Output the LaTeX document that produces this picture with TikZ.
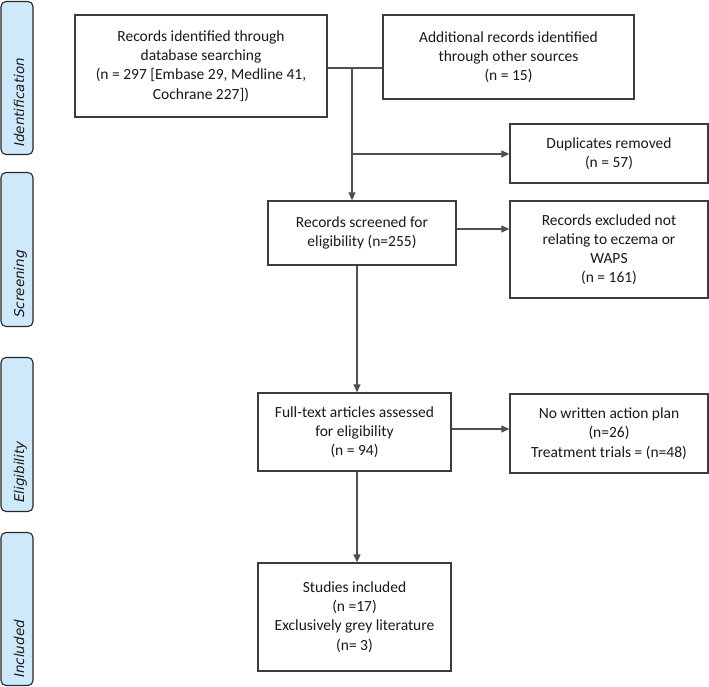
\documentclass[tikz,border=0pt]{standalone}
\usepackage{fontspec}
\setmainfont{Carlito}
\newfontfamily\lblfont{DejaVu Sans}
\usetikzlibrary{arrows.meta,calc}
\definecolor{lblue}{RGB}{206,234,250}
\definecolor{boxc}{RGB}{60,60,60}
\definecolor{linec}{RGB}{80,80,80}
\definecolor{txt}{RGB}{25,25,25}
\begin{document}
\begin{tikzpicture}[x=1pt,y=-1pt,
 box/.style={draw=boxc, line width=1.3pt, fill=white, align=center, inner sep=0pt, text=txt, font=\fontsize{15.5}{19.2}\selectfont},
 lab/.style={draw=black!85, line width=1.1pt, fill=lblue, rounded corners=5pt, inner sep=0pt},
 labtext/.style={rotate=90, anchor=base west, inner sep=0pt, text=txt, font=\lblfont\itshape\fontsize{13.5}{16}\selectfont},
 arr/.style={draw=linec, line width=1.2pt, -{Triangle[length=8pt,width=7pt]}},
 ln/.style={draw=linec, line width=1.2pt}]
\useasboundingbox (0,0) rectangle (709,687);
% stage labels
\node[lab, minimum width=32pt, minimum height=153pt] (l1) at (17,78) {};
\node[lab, minimum width=32pt, minimum height=154pt] (l2) at (17,249.5) {};
\node[lab, minimum width=32pt, minimum height=154pt] (l3) at (17,434.5) {};
\node[lab, minimum width=32pt, minimum height=153pt] (l4) at (17,609) {};
\node[labtext] (t1) at (24,147) {Identification};
\node[labtext] (t2) at (24,318) {Screening};
\node[labtext] (t3) at (24,503) {Eligibility};
\node[labtext] (t4) at (24,678) {Included};
% boxes
\node[box, minimum width=252pt, minimum height=102pt] (b1) at (201,66)
 {Records identified through\\database searching\\(n = 297 [Embase 29, Medline 41,\\Cochrane 227])};
\node[box, minimum width=251pt, minimum height=84pt] (b2) at (508.5,57)
 {Additional records identified\\through other sources\\(n = 15)};
\node[box, minimum width=198pt, minimum height=59pt] (dup) at (609,153.5)
 {Duplicates removed\\(n = 57)};
\node[box, minimum width=188pt, minimum height=64pt] (scr) at (362,233)
 {Records screened for\\eligibility (n=255)};
\node[box, minimum width=198pt, minimum height=97pt] (exc) at (609,249.5)
 {Records excluded not\\relating to eczema or\\WAPS\\(n = 161)};
\node[box, minimum width=193pt, minimum height=78pt] (ft) at (354.5,432)
 {Full-text articles assessed\\for eligibility\\(n = 94)};
\node[box, minimum width=198pt, minimum height=79pt] (nw) at (609,433.5)
 {No written action plan\\(n=26)\\Treatment trials = (n=48)};
\node[box, minimum width=193pt, minimum height=108pt] (st) at (354.5,617)
 {Studies included\\(n =17)\\Exclusively grey literature\\(n= 3)};
% connectors
\coordinate (j) at (352,68);
\coordinate (k) at (352,154);
\coordinate (v) at (357,0);
\draw[ln] (j -| b1.east) -- (j -| b2.west);
\draw[arr] (j) -- (j |- scr.north);
\draw[arr] (k) -- (k -| dup.west);
\draw[arr] (scr.east |- 0,229) -- (exc.west |- 0,229);
\draw[arr] (v |- scr.south) -- (v |- ft.north);
\draw[arr] (ft.east |- 0,429) -- (nw.west |- 0,429);
\draw[arr] (v |- ft.south) -- (v |- st.north);
\end{tikzpicture}
\end{document}
